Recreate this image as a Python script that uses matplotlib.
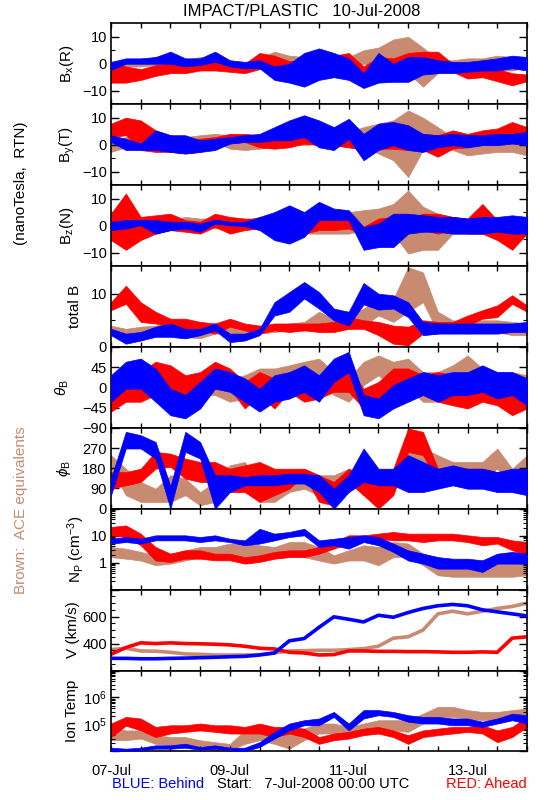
import numpy as np
import matplotlib
matplotlib.use('Agg')
import matplotlib.pyplot as plt
from matplotlib.ticker import FixedLocator, NullFormatter, FixedFormatter

plt.rcParams['font.family'] = ['Liberation Sans', 'DejaVu Sans']
plt.rcParams['mathtext.fontset'] = 'custom'
plt.rcParams['mathtext.rm'] = 'Liberation Sans'
plt.rcParams['mathtext.it'] = 'Liberation Sans:italic'

# time in days since 7-Jul-2008 00:00 UTC (6-hour samples)
days = np.arange(29) * 0.25

# ---------------- Bx (R) [nT] : hi / lo envelopes ----------------
bx_ace_hi = [0.7, 1, 0.7, 2.5, 2, 1.5, 2.5, 2.5, 1.3, 0, 2, 4.5, 3, 2.5, 1.3, 0, 2.5, 5, 6, 9, 10, 6, 1.3, 1.3, 2, 2, 3, 2.5, 2.5]
bx_ace_lo = [-1.7, -1, -1, -0.5, -1, -1.5, 0, -0.5, -1.7, -2.5, -1, -0.5, -0.5, 0, -2.3, -3.5, -2.5, 0, -1, -2.5, -3.5, -8.5, -3.5, -2.3, -2.3, -1.7, -2.5, -2.5, -1.2]
bx_a_hi = [0, -1, -2, -0.5, 0, 1, 1, 2.5, 0.7, 0, 4, 3, 1, 0.5, 2.5, 3, 4, -1, 2.5, 2, 4, 4.5, 4.5, 0, -2, -2.5, -2, -3.5, -4]
bx_a_lo = [-7, -7, -6, -4.5, -3.5, -3.5, -2.5, -2.5, -3, -3.5, -2, -1, -2.5, -3.5, -1, -2.5, -3.5, -3.5, -3, -2.5, -1, 0, -1, -3, -5.5, -5, -6.5, -8, -6.5]
bx_b_hi = [0.7, 2, 2, 2.5, 4.5, 2, 2, 4.5, 1.3, 0.7, 1.3, -1, 0, 4, 5.7, 4, 2, -3.5, 4, 0, 2.5, 2.5, 1.3, 0.7, 0.7, 1.3, 2, 3, 2.5]
bx_b_lo = [-2.3, 0, 0, 0, 0, -1, -0.5, 0.7, -1, -1.7, -1.7, -6, -7, -8.5, -6, -5, -6, -9, -7, -6.7, -6.7, -4, -3.5, -3.5, -3, -2.5, -2.5, -1.7, -2.5]

# ---------------- By (T) [nT] ----------------
by_ace_hi = [1.6, 2.8, 4, 4, 2.8, 2.8, 3.5, 4, 3.5, 3.5, 3.5, 2.8, 3.5, 4, 3.5, 4, 4.7, 6.5, 7.8, 9, 12.7, 10, 6.5, 2.8, 2.2, 2.8, 2.8, 3.5, 3.5]
by_ace_lo = [-2.7, -1, 0, 0.4, -1, -0.2, 0.4, 1, -1.5, -2, -1.5, -1, -0.2, -0.2, 0.4, -0.2, -1, -1, -3.3, -5.8, -12, -2, -1, -2, -4, -3.3, -2.7, -2.7, -4]
by_a_hi = [7.8, 10, 9, 5.3, 3.5, 2.2, 2.2, 2.8, 4, 4, 3.5, 4, 2.8, 3.5, 3.5, 4.7, 4, 2.8, 2.2, 3.5, 2.8, 4, 3.5, 5.3, 4, 5.3, 6, 8.4, 6.5]
by_a_lo = [2.8, 3.5, -2, -2.7, -2.7, -3.3, -2.7, -1, 0.4, 1, -1, -1.5, -1, 0.4, -0.2, -0.2, -1, -2, -1.5, -1.5, -2, -2, -4.5, -1.5, -1, 0.4, -0.2, 1.6, 1.6]
by_b_hi = [3.5, 2.2, 0.4, 5.3, 3.5, 3.5, 1.6, 2.2, 2.8, 3.5, 4, 6.5, 9, 10.9, 9, 6.5, 9.6, 4, 7.8, 8.4, 7.2, 4, 3.5, 4, 3.5, 3.5, 4, 4, 4.7]
by_b_lo = [1, -2, -2, -2, -2.7, -3.3, -2.7, -2, 0.4, 1, 1, 1.6, 1.6, 2.8, -1, -2, 2.2, -5.8, -2, -0.2, -2, -2.7, -1, -0.2, -1, -0.2, -0.2, 0.4, -0.2]

# ---------------- Bz (N) [nT] ----------------
bz_ace_hi = [2, 2, 2, 2.6, 2, 3.2, 2.6, 2.6, 2, 2, 3.2, 3.2, 4.4, 3.2, 2, 3.2, 5, 5.7, 6.3, 8, 13, 7, 4.4, 3.2, 2.6, 2, 2.6, 2, 2]
bz_ace_lo = [-1.7, -1.1, -1.7, -1.1, -0.5, -0.5, -0.5, -1.1, -1.1, -1.1, -0.5, -1.1, -0.5, -3, -3, -3, -3, -1.7, 0.7, -3, -10.4, -9, -9, -3, -3, -3, -3, -3, -2.3]
bz_a_hi = [4.4, 11.9, 3.2, 3.8, 4.4, 2, 1.4, 4.4, 3.2, 2.6, 2.6, 3.2, 2, 2, 3.2, 2.6, 2.6, -0.5, 2.6, 3.2, 2.6, 4.4, 4.4, 3.2, 2.6, 8, 2, 2, 3.2]
bz_a_lo = [-5.4, -9, -5.4, -3, -1.7, -2.3, -3, -0.5, -3, -1.7, -1.1, -3, -4.2, -3, -1.7, -1.7, -1.1, -3.6, -1.7, -1.7, -1.1, -1.7, -3, -1.7, -3, -3, -5.4, -9, -3]
bz_b_hi = [1.4, 2, 2, 2, 1.4, 1.4, 0.7, 2.2, 1.4, 1.4, 3.2, 5, 7.5, 5, 8.8, 6.3, 5.7, -0.5, 0.7, 4.4, 4.4, 3.8, 3.2, 3.2, 2.6, 3.2, 3.2, 3.8, 3.2]
bz_b_lo = [-1.7, -1.1, 0.1, -3, -1.7, -1.1, -2.3, 0.7, 0.1, -0.2, -1.7, -5.4, -6.7, -4.2, 2, 2, 2, -9, -8, -8, -3, -2.3, -2.3, -3, -3, -3, -2.3, -3, -3]

# ---------------- total B [nT] ----------------
bt_ace_hi = [4, 3.4, 3.8, 4, 4.7, 3.8, 3.4, 3.8, 3.8, 3.4, 3.8, 4, 4.4, 4.7, 6.6, 5.3, 5.9, 7.2, 9, 9, 15, 14, 6.6, 5, 4.7, 5, 5, 4.7, 4.4]
bt_ace_lo = [3.1, 2.5, 2.8, 2.5, 2.8, 1.9, 1.6, 2.5, 2.5, 2.2, 2.5, 2.8, 3.1, 3.1, 3.4, 3.1, 3.4, 4, 5.9, 4.7, 6.6, 8.4, 2.8, 2.8, 2.5, 2.8, 2.8, 2.2, 2.2]
bt_a_hi = [8.4, 11.5, 8.4, 6.6, 5.3, 5.3, 4.7, 4.4, 5.3, 4.4, 4, 4.4, 4.4, 4.4, 4.4, 4.7, 5.6, 5, 4.7, 4, 3.8, 5, 4.7, 4.7, 5.9, 6.9, 7.8, 9.7, 7.8]
bt_a_lo = [6.9, 8.1, 4.7, 4.4, 3.8, 3.4, 3.1, 2.5, 3.8, 3.1, 2.5, 3.1, 2.8, 3.1, 2.8, 2.8, 3.4, 3.4, 2.2, 0.6, 0.3, 2.5, 2.5, 3.4, 4, 5.3, 5.6, 8.1, 6.6]
bt_b_hi = [3.4, 2.5, 2.8, 3.8, 4.4, 3.4, 3.4, 4.4, 2.5, 2.5, 3.4, 8.4, 10.3, 12.2, 10.3, 7.2, 6.6, 12, 10, 9.7, 8.4, 4.7, 4.4, 4.4, 4.4, 4.4, 4.4, 4.4, 4.7]
bt_b_lo = [2.2, 0.6, 1.2, 1.9, 1.9, 1.6, 2.2, 3.1, 0.9, 1.2, 2.2, 5.9, 6.6, 9.1, 7.2, 5, 4, 8, 7, 7.2, 5.6, 2.2, 2.5, 2.5, 2.5, 2.5, 2.5, 2.8, 2.8]

# ---------------- theta_B [deg] ----------------
th_ace_hi = [12, 20, 27, 34, 27, 20, 27, 27, 20, 27, 42, 42, 49, 57, 64, 34, 20, 57, 71, 57, 64, 34, 34, 49, 71, 42, 34, 34, 27]
th_ace_lo = [-25, -17, -17, -10, -17, -25, -17, -17, -32, -25, -17, -10, -3, 5, 12, -17, -32, 5, 27, -3, -3, -32, -32, -10, 12, -10, -17, -25, -32]
th_a_hi = [-3, 42, 34, 57, 49, 27, 34, 57, 42, 12, 34, 20, 34, 12, 27, 49, 42, -3, 12, 42, 42, 27, 34, 27, 5, 27, 27, -3, -3]
th_a_lo = [-54, -32, -32, -17, -32, -47, -25, -3, -3, -47, -17, -47, -10, -32, -25, -10, -10, -47, -32, -10, -3, -17, -32, -40, -47, -32, -40, -62, -47]
th_b_hi = [27, 57, 64, 42, -3, -17, 12, 42, 34, 20, -3, 27, 34, 49, 27, 64, 79, -17, -25, 5, 20, 34, 27, 34, 34, 49, 34, 34, 20]
th_b_lo = [-32, -3, -3, -32, -62, -69, -47, -3, -10, -32, -54, -32, -25, -10, -32, 12, 34, -62, -69, -47, -32, -17, -32, -17, -17, -10, -25, -17, -40]

# ---------------- phi_B [deg] ----------------
ph_ace_hi = [238, 178, 119, 89, 149, 134, 74, 119, 193, 208, 119, 89, 149, 178, 149, 149, 178, 149, 134, 149, 297, 268, 238, 208, 208, 208, 268, 178, 238]
ph_ace_lo = [178, 60, 30, 30, 30, 60, 15, 30, 119, 134, 30, 30, 74, 89, 60, 60, 119, 60, 60, 74, 178, 149, 134, 119, 89, 134, 178, 74, 89]
ph_a_hi = [163, 163, 178, 253, 245, 223, 208, 208, 178, 193, 208, 178, 178, 178, 149, 119, 178, 149, 119, 178, 357, 342, 178, 178, 178, 178, 163, 163, 163]
ph_a_lo = [89, 104, 119, 178, 186, 134, 119, 119, 74, 74, 30, 60, 89, 149, 30, 15, 119, 60, 0, 60, 253, 238, 119, 119, 134, 134, 119, 119, 119]
ph_b_hi = [134, 342, 327, 297, 100, 342, 297, 149, 149, 141, 149, 149, 156, 156, 149, 89, 149, 268, 178, 178, 238, 208, 178, 193, 178, 178, 163, 178, 178]
ph_b_lo = [60, 268, 268, 223, 0, 253, 223, 0, 74, 104, 104, 104, 112, 112, 74, 0, 74, 119, 104, 104, 74, 74, 89, 104, 89, 89, 74, 74, 60]

# ---------------- proton density [cm^-3] ----------------
np_ace_hi = [3.8, 3.3, 2.5, 1.87, 2.15, 2.86, 3.8, 3.8, 5.1, 5.1, 4.4, 3.8, 5.8, 5.8, 3.8, 1.87, 2.86, 4.4, 3.8, 5.8, 5.1, 2.15, 1.6, 1.2, 0.92, 0.92, 1.06, 0.92, 1.2]
np_ace_lo = [1.6, 1.4, 1.2, 0.8, 0.92, 1.2, 1.6, 1.6, 1.87, 1.6, 1.87, 1.6, 2.15, 1.6, 1.2, 0.92, 1.2, 1.2, 0.8, 1.6, 1.6, 0.8, 0.34, 0.3, 0.3, 0.3, 0.3, 0.3, 0.34]
np_a_hi = [21, 24, 11.9, 3.8, 2.15, 2.86, 2.86, 2.15, 2.15, 1.6, 1.87, 2.5, 2.86, 2.86, 3.8, 5.8, 10.3, 10.3, 11.9, 13.7, 11.9, 11.9, 11.9, 11.9, 10.3, 8.9, 8.9, 6.7, 5.8]
np_a_lo = [10.3, 8.9, 4.4, 1.2, 1.06, 1.4, 1.4, 1.22, 1.22, 0.92, 1.06, 1.4, 1.6, 1.6, 2.15, 3.3, 5.1, 6.7, 7.7, 6.7, 6.7, 5.8, 6.7, 6.7, 5.8, 4.4, 5.1, 2.9, 1.87]
np_b_hi = [7.7, 8.9, 7.7, 10.3, 10.3, 10.3, 8.9, 10.3, 7.7, 6.7, 18, 11.9, 13.7, 18, 6.7, 7.7, 8.9, 10.3, 8.9, 5.1, 2.86, 2.15, 1.6, 1.4, 1.4, 1.22, 2.15, 2.5, 2.15]
np_b_lo = [5.1, 5.8, 5.1, 6.7, 6.7, 6.7, 5.8, 6.7, 5.8, 4.4, 5.1, 6.7, 8.9, 10.3, 3.8, 4.4, 3.3, 5.8, 4.4, 2.5, 1.2, 0.92, 0.6, 0.6, 0.6, 0.45, 0.92, 0.92, 0.92]

# ---------------- bulk speed [km/s] ----------------
v_ace = [355, 365, 345, 343, 335, 323, 320, 315, 315, 315, 318, 330, 345, 347, 350, 350, 355, 362, 380, 440, 450, 500, 620, 640, 620, 640, 660, 675, 700]
v_a = [320, 370, 405, 400, 405, 400, 398, 395, 390, 380, 365, 360, 335, 330, 315, 318, 345, 345, 342, 342, 340, 340, 338, 335, 335, 338, 335, 440, 450]
v_b = [290, 290, 287, 287, 290, 292, 295, 298, 302, 305, 315, 330, 420, 437, 520, 598, 580, 560, 610, 595, 630, 660, 680, 690, 680, 650, 635, 620, 605]

# ---------------- ion temperature [K] ----------------
t_ace_hi = [8.1e4, 6.0e4, 6.0e4, 4.0e4, 3.4e4, 3.4e4, 2.6e4, 2.2e4, 1.9e4, 6.0e4, 7.0e4, 4.6e4, 6.0e4, 7.0e4, 1.08e5, 1.08e5, 8.1e4, 1.08e5, 1.43e5, 1.43e5, 1.43e5, 2.5e5, 4.5e5, 4.5e5, 3.4e5, 2.9e5, 2.9e5, 3.4e5, 3.9e5]
t_ace_lo = [2.6e4, 2.6e4, 3.0e4, 1.9e4, 1.7e4, 1.45e4, 1.26e4, 1.1e4, 1.1e4, 1.9e4, 2.6e4, 1.9e4, 1.26e4, 2.6e4, 4.6e4, 4.6e4, 3.4e4, 4.6e4, 6.0e4, 6.0e4, 5.3e4, 1.08e5, 1.9e5, 1.9e5, 1.66e5, 1.43e5, 1.43e5, 1.66e5, 1.66e5]
t_a_hi = [1.08e5, 1.9e5, 1.66e5, 8.1e4, 9.3e4, 9.3e4, 1.08e5, 9.3e4, 9.3e4, 8.1e4, 1.08e5, 8.1e4, 8.1e4, 7.0e4, 3.4e4, 4.6e4, 5.3e4, 7.0e4, 8.1e4, 6.0e4, 4.0e4, 6.0e4, 7.0e4, 8.1e4, 8.1e4, 9.3e4, 6.0e4, 8.1e4, 1.9e5]
t_a_lo = [3.4e4, 9.0e4, 6.0e4, 3.4e4, 4.6e4, 5.3e4, 6.0e4, 5.3e4, 4.6e4, 4.6e4, 4.6e4, 3.4e4, 4.6e4, 3.4e4, 1.9e4, 2.6e4, 3.0e4, 4.0e4, 4.6e4, 3.4e4, 1.9e4, 3.4e4, 4.0e4, 4.6e4, 5.3e4, 4.6e4, 2.2e4, 3.4e4, 8.1e4]
t_b_hi = [1.37e4, 1.26e4, 1.37e4, 1.68e4, 1.68e4, 1.93e4, 1.45e4, 1.68e4, 1.37e4, 1.37e4, 2.2e4, 5.3e4, 1.08e5, 1.43e5, 1.66e5, 2.9e5, 1.08e5, 3.4e5, 3.4e5, 2.9e5, 2.2e5, 1.9e5, 1.9e5, 1.66e5, 1.66e5, 1.26e5, 1.66e5, 2.5e5, 2.2e5]
t_b_lo = [1.03e4, 1.03e4, 1.09e4, 1.26e4, 1.26e4, 1.37e4, 1.15e4, 1.26e4, 1.09e4, 1.03e4, 1.45e4, 3.0e4, 6.0e4, 9.3e4, 9.3e4, 1.9e5, 6.0e4, 1.66e5, 2.2e5, 1.9e5, 1.26e5, 1.08e5, 1.08e5, 9.3e4, 9.3e4, 8.1e4, 1.08e5, 1.43e5, 1.08e5]

date_ticks = ['07-Jul', '09-Jul', '11-Jul', '13-Jul']

BROWN = '#c88a70'
RED = '#ff0000'
BLUE = '#0000ff'

W, H = 550, 800
fig = plt.figure(figsize=(W / 100, H / 100), dpi=100)

ax_left, ax_right = 111, 527
top0, pan_h = 23.3, 80.9


def make_axes(i):
    b = 1 - (top0 + (i + 1) * pan_h) / H
    return fig.add_axes([ax_left / W, b, (ax_right - ax_left) / W, pan_h / H])


def band(ax, lo, hi, c, z):
    ax.fill_between(days, lo, hi, color=c, lw=0.5, zorder=z)


def style(ax, bottom=False):
    ax.set_xlim(0, 7)
    ax.xaxis.set_major_locator(FixedLocator(np.arange(0, 7.01, 0.5)))
    ax.tick_params(axis='x', which='both', direction='in', top=True, bottom=True,
                   length=3.5, width=1.0)
    ax.tick_params(axis='y', which='major', direction='in', left=True, right=True,
                   length=6, width=1.0, labelsize=10.5, pad=3)
    ax.tick_params(axis='y', which='minor', direction='in', left=True, right=True,
                   length=3, width=0.8)
    for s in ax.spines.values():
        s.set_linewidth(1.2)
    if bottom:
        labs = []
        for d in np.arange(0, 7.01, 0.5):
            labs.append(date_ticks[int(d) // 2] if (d % 2 == 0 and d < 7) else '')
        ax.xaxis.set_major_formatter(FixedFormatter(labs))
        ax.tick_params(axis='x', labelsize=10.5, pad=9)
    else:
        ax.xaxis.set_major_formatter(NullFormatter())


def yticks(ax, major, labels, minor=None):
    ax.yaxis.set_major_locator(FixedLocator(major))
    ax.yaxis.set_major_formatter(FixedFormatter(labels))
    ax.yaxis.set_minor_locator(FixedLocator(minor if minor is not None else []))
    ax.yaxis.set_minor_formatter(NullFormatter())


panels = [
    (bx_ace_lo, bx_ace_hi, bx_a_lo, bx_a_hi, bx_b_lo, bx_b_hi),
    (by_ace_lo, by_ace_hi, by_a_lo, by_a_hi, by_b_lo, by_b_hi),
    (bz_ace_lo, bz_ace_hi, bz_a_lo, bz_a_hi, bz_b_lo, bz_b_hi),
    (bt_ace_lo, bt_ace_hi, bt_a_lo, bt_a_hi, bt_b_lo, bt_b_hi),
    (th_ace_lo, th_ace_hi, th_a_lo, th_a_hi, th_b_lo, th_b_hi),
    (ph_ace_lo, ph_ace_hi, ph_a_lo, ph_a_hi, ph_b_lo, ph_b_hi),
    (np_ace_lo, np_ace_hi, np_a_lo, np_a_hi, np_b_lo, np_b_hi),
]

axes = []
for i, (alo, ahi, rlo, rhi, blo, bhi) in enumerate(panels):
    ax = make_axes(i)
    band(ax, alo, ahi, BROWN, 1)
    band(ax, rlo, rhi, RED, 2)
    band(ax, blo, bhi, BLUE, 3)
    axes.append(ax)

ax_v = make_axes(7)
ax_v.plot(days, v_ace, color=BROWN, lw=2.6, zorder=1)
ax_v.plot(days, v_a, color=RED, lw=2.6, zorder=2)
ax_v.plot(days, v_b, color=BLUE, lw=2.6, zorder=3)
axes.append(ax_v)

ax_t = make_axes(8)
band(ax_t, t_ace_lo, t_ace_hi, BROWN, 1)
band(ax_t, t_a_lo, t_a_hi, RED, 2)
band(ax_t, t_b_lo, t_b_hi, BLUE, 3)
axes.append(ax_t)

for i, ax in enumerate(axes):
    style(ax, bottom=(i == 8))

for ax in axes[:3]:
    ax.set_ylim(-15, 15)
    yticks(ax, [-10, 0, 10], ['\u221210', '0', '10'], [-5, 5])
axes[3].set_ylim(0, 15.2)
yticks(axes[3], [0, 10], ['0', '10'], [5])
axes[4].set_ylim(-90, 90)
yticks(axes[4], [-90, -45, 0, 45, 90], ['\u221290', '\u221245', '0', '45', ''])
axes[5].set_ylim(0, 360)
yticks(axes[5], [0, 90, 180, 270, 360], ['0', '90', '180', '270', ''])
axes[6].set_yscale('log')
axes[6].set_ylim(0.1, 100)
yticks(axes[6], [0.1, 1, 10, 100], ['', '1', '10', ''],
       [m * 10.0 ** e for e in (-1, 0, 1) for m in range(2, 10)])
axes[7].set_ylim(200, 800)
yticks(axes[7], [200, 400, 600, 800], ['', '400', '600', ''],
       [250, 300, 350, 450, 500, 550, 650, 700, 750])
axes[8].set_yscale('log')
axes[8].set_ylim(1e4, 1e7)
yticks(axes[8], [1e4, 1e5, 1e6, 1e7], ['', '10$^5$', '10$^6$', ''],
       [m * 10.0 ** e for e in (4, 5, 6) for m in range(2, 10)])

# y-axis labels
ylabels = [r'B$_\mathrm{x}$(R)', r'B$_\mathrm{y}$(T)', r'B$_\mathrm{z}$(N)', 'total B',
           r'$\theta_\mathrm{B}$', r'$\phi_\mathrm{B}$', r'N$_\mathrm{P}$ (cm$^{-3}$)',
           'V (km/s)', 'Ion Temp']
ylab_x = [67, 67, 67, 75, 62, 64, 76, 73, 72]
for i, (lab, xp) in enumerate(zip(ylabels, ylab_x)):
    yc = top0 + (i + 0.5) * pan_h
    fig.text(xp / W, 1 - yc / H, lab, rotation=90, ha='center', va='center',
             fontsize=11)

fig.text(302 / W, 1 - 11 / H, 'IMPACT/PLASTIC   10-Jul-2008', ha='center',
         va='center', fontsize=12)
fig.text(21 / W, 1 - 183 / H, '(nanoTesla,  RTN)', rotation=90, ha='center',
         va='center', fontsize=11)
fig.text(21 / W, 1 - 510 / H, 'Brown:  ACE equivalents', rotation=90,
         ha='center', va='center', fontsize=11, color=BROWN)
fig.text(112 / W, 1 - 784 / H, 'BLUE: Behind', ha='left', va='center',
         fontsize=10.5, color=BLUE)
fig.text(217 / W, 1 - 784 / H, 'Start:   7-Jul-2008 00:00 UTC', ha='left',
         va='center', fontsize=10.5, color='black')
fig.text(527 / W, 1 - 784 / H, 'RED: Ahead', ha='right', va='center',
         fontsize=10.5, color=RED)

fig.savefig('out.png', dpi=100, facecolor='white')
